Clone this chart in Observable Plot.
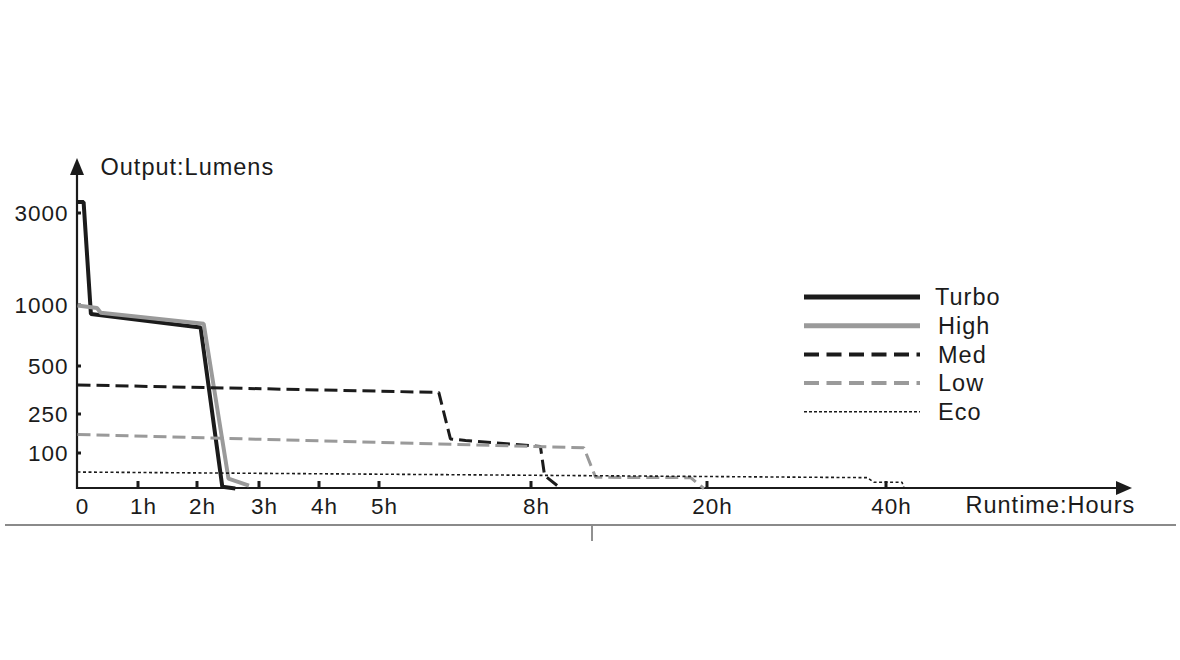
<!DOCTYPE html>
<html><head><meta charset="utf-8">
<script src="https://cdn.jsdelivr.net/npm/d3@7"></script>
<script src="https://cdn.jsdelivr.net/npm/@observablehq/plot@0.6"></script>
<style>
body{margin:0;background:#fff}
#chart{position:relative;width:1180px;height:660px}
</style>
</head><body><div id="chart"></div>
<script>
// ---- data ----
const hourTicks = [0, 1, 2, 3, 4, 5, 8, 20, 40];
const hourTickLabels = ["0", "1h", "2h", "3h", "4h", "5h", "8h", "20h", "40h"];
const lumenTicks = [100, 250, 500, 1000, 3000];
const lumenTickLabels = ["100", "250", "500", "1000", "3000"];
const seriesNames = ["Turbo", "High", "Med", "Low", "Eco"];

const turboHours = [0, 0.1, 0.22, 2.05, 2.40, 2.61];
const turboLumens = [3240, 3240, 930, 820, 5, 0];
const highHours = [0, 0.32, 0.38, 2.1, 2.5, 2.83];
const highLumens = [1000, 980, 940, 850, 28, 8];
const medHours = [0, 6.17, 6.40, 6.70, 8.61, 8.89, 9.98];
const medLumens = [404, 365, 156, 150, 127, 37, 1];
const lowHours = [0, 11.57, 12.37, 18.85, 19.76];
const lowLumens = [173, 122, 32, 31, 0];
const ecoHours = [0, 37.84, 38.58, 41.7, 41.9];
const ecoLumens = [47, 31, 18, 18, 4];

// ---- build table ----
const hoursBySeries = [turboHours, highHours, medHours, lowHours, ecoHours];
const lumensBySeries = [turboLumens, highLumens, medLumens, lowLumens, ecoLumens];
const rows = seriesNames.flatMap((s, i) =>
  hoursBySeries[i].map((h, j) => ({series: s, hours: h, lumens: lumensBySeries[i][j]})));

// ---- styles ----
const style = {
  Turbo: {stroke: "#1b1b1b", strokeWidth: 4, dash: null, legendWidth: 5},
  High:  {stroke: "#9a9a9a", strokeWidth: 4, dash: null, legendWidth: 5},
  Med:   {stroke: "#1b1b1b", strokeWidth: 3, dash: "13,6", legendWidth: 4},
  Low:   {stroke: "#9a9a9a", strokeWidth: 3, dash: "13,6", legendWidth: 4},
  Eco:   {stroke: "#1b1b1b", strokeWidth: 1.6, dash: "3,2.5", legendWidth: 1.6}
};
const FONT = "'Liberation Sans', Arial, sans-serif";
const AX = "#1b1b1b";
const BIG = 23.5;

function decorations(index, scales) {
  const x = scales.x, y = scales.y;
  const g = d3.create("svg:g");
  const x0 = x(0), y0 = y(0);
  const xEnd = x(67), yTop = y(4160);
  // x axis
  g.append("line").attr("x1", x0).attr("x2", xEnd - 12).attr("y1", y0).attr("y2", y0)
    .attr("stroke", AX).attr("stroke-width", 2.2);
  g.append("path").attr("d", `M${xEnd},${y0}L${xEnd - 16},${y0 - 7}L${xEnd - 16},${y0 + 7}Z`).attr("fill", AX);
  // y axis
  g.append("line").attr("x1", x0).attr("x2", x0).attr("y1", y0 + 1).attr("y2", yTop + 12)
    .attr("stroke", AX).attr("stroke-width", 2.2);
  g.append("path").attr("d", `M${x0},${yTop}L${x0 - 7},${yTop + 17}L${x0 + 7},${yTop + 17}Z`).attr("fill", AX);
  // x ticks (upward)
  for (const h of hourTicks.slice(1)) {
    g.append("line").attr("x1", x(h)).attr("x2", x(h)).attr("y1", y0).attr("y2", y0 - 7)
      .attr("stroke", AX).attr("stroke-width", 3);
  }
  // y ticks (rightward)
  for (const v of lumenTicks) {
    g.append("line").attr("x1", x0).attr("x2", x0 + 4).attr("y1", y(v)).attr("y2", y(v))
      .attr("stroke", AX).attr("stroke-width", 3);
  }
  // legend
  seriesNames.forEach((s, i) => {
    const st = style[s];
    const ly = 297 + i * 28.7;
    const l = g.append("line").attr("x1", 804).attr("x2", 920).attr("y1", ly).attr("y2", ly)
      .attr("stroke", st.stroke).attr("stroke-width", st.legendWidth);
    if (st.dash) l.attr("stroke-dasharray", s === "Eco" ? "3,2" : "15,7.5");
    g.append("text").attr("x", s === "Turbo" ? 935 : 938).attr("y", ly).attr("dy", "0.35em")
      .attr("text-anchor", "start")
      .attr("font-family", FONT).attr("font-size", BIG).attr("letter-spacing", "1px")
      .attr("fill", "#1b1b1b").text(s);
  });
  // page frame line beneath
  g.append("line").attr("x1", 5).attr("x2", 1176).attr("y1", 525).attr("y2", 525)
    .attr("stroke", "#8a8a8a").attr("stroke-width", 2);
  g.append("line").attr("x1", 592).attr("x2", 592).attr("y1", 526).attr("y2", 541)
    .attr("stroke", "#222").attr("stroke-width", 1);
  return g.node();
}

const lineMarks = seriesNames.map(s => {
  const st = style[s];
  const opts = {x: "hours", y: "lumens", stroke: st.stroke, strokeWidth: st.strokeWidth,
    strokeLinejoin: "miter", strokeLinecap: "butt"};
  if (st.dash) opts.strokeDasharray = st.dash;
  return Plot.line(rows.filter(r => r.series === s), opts);
});

const chart = Plot.plot({
  width: 1180,
  height: 660,
  margin: 0,
  style: {background: "#fff", fontFamily: FONT},
  x: {type: "linear", domain: [0, 1, 2, 3, 4, 5, 8, 20, 40, 67],
      range: [77, 138, 197, 259, 319, 379, 531, 707, 886, 1132], axis: null},
  y: {type: "linear", domain: [0, 100, 250, 500, 1000, 3000, 4160],
      range: [488, 453, 414, 366, 305, 213, 158], axis: null},
  marks: [
    decorations,
    ...lineMarks,
    Plot.text(hourTicks, {x: d => d, y: 0, text: (d, i) => hourTickLabels[i], dy: 18, dx: 5,
      fontSize: 22.5, fill: "#1b1b1b", textAnchor: "middle", lineAnchor: "middle"}),
    Plot.text(lumenTicks, {x: 0, y: d => d, text: (d, i) => lumenTickLabels[i], dx: -9,
      fontSize: 22.5, fill: "#1b1b1b", textAnchor: "end", lineAnchor: "middle"}),
    Plot.text(["Output:Lumens"], {x: 0, y: 4160, text: d => d, dx: 23, dy: 9,
      fontSize: BIG, fill: "#1b1b1b", textAnchor: "start", lineAnchor: "middle"}),
    Plot.text(["Runtime:Hours"], {x: 67, y: 0, text: d => d, dx: -167, dy: 17,
      fontSize: BIG, fill: "#1b1b1b", textAnchor: "start", lineAnchor: "middle"})
  ]
});
chart.querySelectorAll("text").forEach(t => t.setAttribute("letter-spacing", "1px"));
document.getElementById("chart").appendChild(chart);
</script>
</body></html>
